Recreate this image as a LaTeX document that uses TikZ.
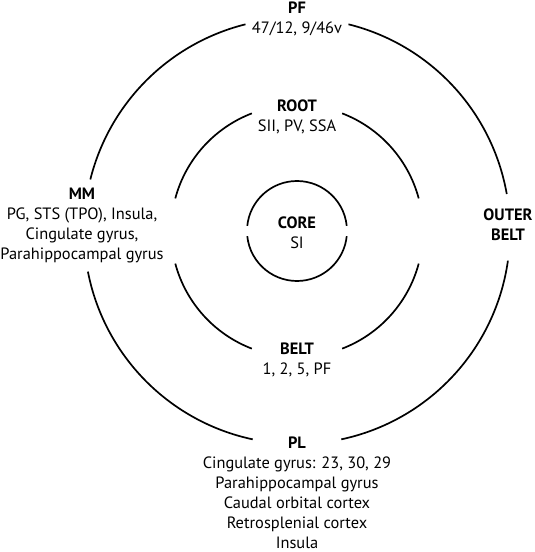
\documentclass[tikz,border=0pt]{standalone}
\usepackage{fontspec}
\setmainfont{PT Sans}
\usetikzlibrary{positioning}

\begin{document}
\begin{tikzpicture}[x=1pt, y=1pt,
ring/.style = {draw, line width=1.7pt},
lbl/.style = {align=center, inner sep=0pt, font=\fontsize{16.4}{20}\selectfont},
                    ]
    \useasboundingbox (0,0) rectangle (535,552);
    \coordinate (c) at (297,321);
    % outer belt ring
    \path[ring] (c) ++(10:213) arc[start angle=10, end angle=76, radius=213];
    \path[ring] (c) ++(104:213) arc[start angle=104, end angle=166, radius=213];
    \path[ring] (c) ++(191:213) arc[start angle=191, end angle=258, radius=213];
    \path[ring] (c) ++(282:213) arc[start angle=282, end angle=352, radius=213];
    % root / belt ring
    \path[ring] (c) ++(15:126) arc[start angle=15, end angle=69, radius=126];
    \path[ring] (c) ++(111:126) arc[start angle=111, end angle=165, radius=126];
    \path[ring] (c) ++(195:126) arc[start angle=195, end angle=249, radius=126];
    \path[ring] (c) ++(291:126) arc[start angle=291, end angle=345, radius=126];
    % core
    \path[ring] (c) ++(6:50) arc[start angle=6, end angle=174, radius=50];
    \path[ring] (c) ++(186:50) arc[start angle=186, end angle=354, radius=50];

    \node [lbl] (pf)    at (297,533.5) {\textbf{PF}\\47/12, 9/46v};
    \node [lbl] (root)  at (297,435)   {\textbf{ROOT}\\SII, PV, SSA};
    \node [lbl] (core)  at (297,319.5) {\textbf{CORE}\\SI};
    \node [lbl] (mm)    at (82,326.5)  {\textbf{MM}\\PG, STS (TPO), Insula,\\Cingulate gyrus,\\Parahippocampal gyrus};
    \node [lbl] (outer) at (508,327)   {\textbf{OUTER}\\\textbf{BELT}};
    \node [lbl] (belt)  at (297,192)   {\textbf{BELT}\\1, 2, 5, PF};
    \node [lbl] (pl)    at (297,59.5)  {\textbf{PL}\\Cingulate gyrus: 23, 30, 29\\Parahippocampal gyrus\\Caudal orbital cortex\\Retrosplenial cortex\\Insula};
\end{tikzpicture}
\end{document}
